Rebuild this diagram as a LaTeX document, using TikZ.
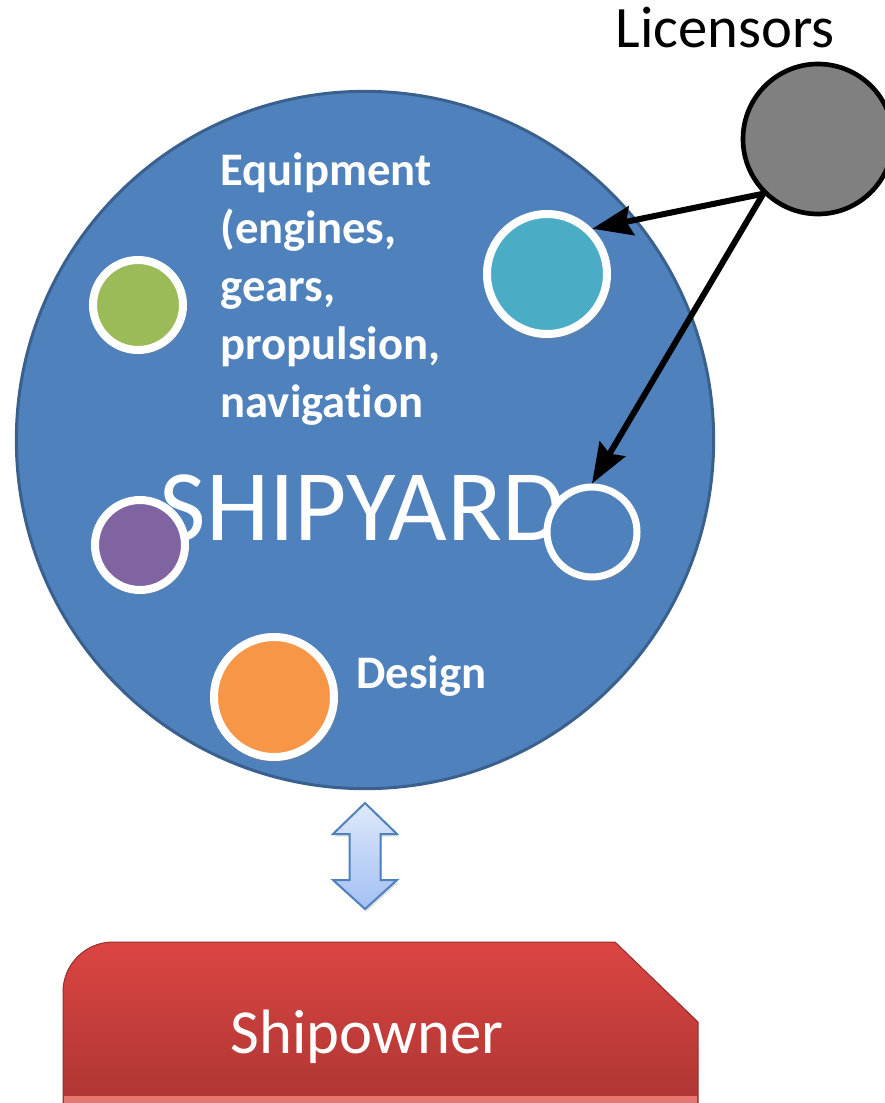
\documentclass[tikz,border=0pt]{standalone}
\usepackage{fontspec}
\setmainfont{Carlito}[Ligatures=NoCommon]
\usetikzlibrary{arrows.meta,shadows}

\definecolor{yardfill}{RGB}{79,129,189}
\definecolor{yardline}{RGB}{58,96,142}
\definecolor{dotgreen}{RGB}{155,187,89}
\definecolor{dotteal}{RGB}{75,172,198}
\definecolor{dotpurple}{RGB}{128,100,162}
\definecolor{dotorange}{RGB}{247,150,70}
\definecolor{licgray}{RGB}{128,128,128}
\definecolor{ownertop}{RGB}{219,69,66}
\definecolor{ownerbot}{RGB}{172,53,50}
\definecolor{ownerline}{RGB}{150,45,42}
\definecolor{ownerlight}{RGB}{232,118,113}
\definecolor{linktop}{RGB}{222,232,251}
\definecolor{linkbot}{RGB}{163,192,243}

\tikzset{every picture/.style={line width=0.75pt},
  dot/.style={circle,draw=white,line width=6pt,inner sep=0pt,minimum size=67.5pt,
    drop shadow={opacity=0.3,shadow scale=1.06,shadow xshift=0.8pt,shadow yshift=-1.6pt}},
  bigdot/.style={dot,minimum size=90pt},
  tagtext/.style={text=white,font=\fontsize{35}{43.5}\selectfont\bfseries,inner sep=0pt,align=left},
  feed/.style={-{Stealth[length=30pt,width=22pt,inset=4pt]}}
}

\begin{document}
\begin{tikzpicture}[x=0.75pt,y=0.75pt,yscale=-1,xscale=1]
\useasboundingbox (0,0) rectangle (885,1103);

%Shape: Circle [yard]
\node[circle,draw=yardline,fill=yardfill,line width=2.25pt,minimum size=523pt,inner sep=0pt] (yard) at (365,440) {};

% Text Node
\node[anchor=base,text=white,font=\fontsize{76}{90}\selectfont,inner sep=0pt] (shipyard) at (362,540) {SHIPYARD};

%Shape: Circles inside the yard
\node[dot,fill=dotgreen] (green) at (138,305) {};
\node[bigdot,fill=dotteal] (teal) at (547,274) {};
\node[dot,fill=dotpurple] (purple) at (140,545) {};
\node[dot,fill=yardfill,line width=5.25pt] (ring) at (592,532) {};
\node[bigdot,fill=dotorange] (orange) at (274,697) {};

% Text Node
\node[tagtext,anchor=north west] (equip) at (220,152) {Equipment\\(engines,\\gears,\\propulsion,\\navigation};
% Text Node
\node[tagtext,anchor=base west] (design) at (356,688) {Design};

%Shape: Circle [licensors]
\node[circle,draw=black,fill=licgray,line width=3.5pt,minimum size=112.5pt,inner sep=0pt] (lic) at (818,139) {};
% Text Node
\node[anchor=base,font=\fontsize{44}{52}\selectfont,inner sep=0pt] (lictext) at (725,47) {Licensors};

%Straight Lines
\draw[line width=4.5pt,feed] (lic.225) -- (teal.45);
\draw[line width=4.5pt,feed] (lic.225) -- (ring.north);

%Shape: Up-Down Arrow
\shade[top color=linktop,bottom color=linkbot,draw=yardfill,line width=1.5pt,
  drop shadow={opacity=0.25,shadow xshift=1pt,shadow yshift=-2pt}]
  (365,803) -- (397,834) -- (380.5,834) -- (380.5,880) -- (397,880) -- (365,909)
  -- (333,880) -- (349.5,880) -- (349.5,834) -- (333,834) -- cycle;

%Shape: Snip and Round Rectangle [owner]
\shade[top color=ownertop,bottom color=ownerbot,draw=ownerline,line width=0.75pt]
  (63,1110) -- (63,992) arc[start angle=180,end angle=270,radius=50] -- (615,942) -- (698,1022) -- (698,1110) -- cycle;
\fill[ownerlight] (64,1096) rectangle (697,1103);
% Text Node
\node[anchor=base,text=white,font=\fontsize{47}{56}\selectfont,inner sep=0pt] (owner) at (367,1053) {Shipowner};

\end{tikzpicture}
\end{document}
